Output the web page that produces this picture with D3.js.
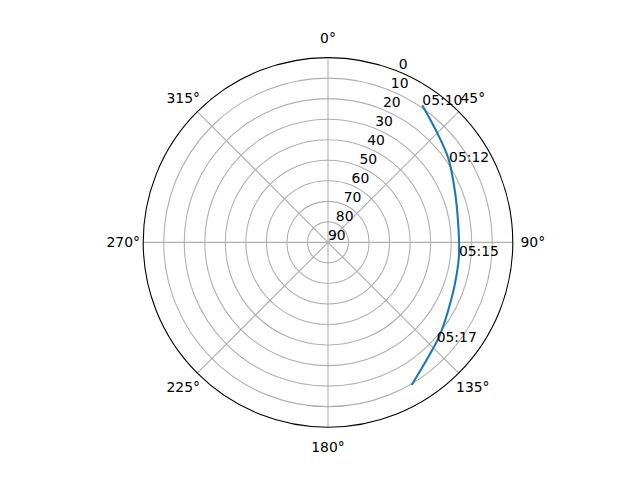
<!DOCTYPE html>
<html>
<head>
<meta charset="utf-8">
<script src="https://cdn.jsdelivr.net/npm/d3@7"></script>
<style>
  body { margin: 0; background: #fff; }
  text { font-family: "DejaVu Sans", sans-serif; font-size: 13.9px; fill: #000; }
</style>
</head>
<body>
<svg id="chart" width="640" height="480"></svg>
<script>
// pass track: azimuth (deg, clockwise from north) and elevation (deg)
const azimuth   = [34.5, 44.5, 55.0, 68.2, 82.4, 95.5, 107.9, 119.3, 130.3, 138.7, 149.6];
const elevation = [ 8.9, 14.5, 18.5, 23.4, 26.0, 25.9,  25.0,  22.8,  19.0,  15.9,   9.5];

// time annotations along the track
const labelTimes = ["05:10", "05:12", "05:15", "05:17"];
const labelAz    = [34.5, 56.5, 96.0, 132.5];
const labelEl    = [ 8.9, 19.3, 25.9,  18.2];

const thetaTicks = [0, 45, 90, 135, 180, 225, 270, 315];
const rTicks = [0, 10, 20, 30, 40, 50, 60, 70, 80, 90];

const svg = d3.select("#chart");
const cx = 328, cy = 242.4, R = 184.8;

const r = d3.scaleLinear().domain([0, 90]).range([R, 0]);
const rad = d => d * Math.PI / 180;

const g = svg.append("g").attr("transform", `translate(${cx},${cy})`);

// rings
g.selectAll("circle.ring")
    .data(rTicks.filter(d => d > 0 && d < 90))
    .enter()
    .append("circle")
    .attr("class", "ring")
    .attr("r", d => r(d))
    .attr("fill", "none")
    .attr("stroke", "#b0b0b0")
    .attr("stroke-width", 1.1);

// spokes
g.selectAll("line.spoke")
    .data(thetaTicks)
    .enter()
    .append("line")
    .attr("x1", 0).attr("y1", 0)
    .attr("x2", d => R * Math.sin(rad(d)))
    .attr("y2", d => -R * Math.cos(rad(d)))
    .attr("stroke", "#b0b0b0")
    .attr("stroke-width", 1.1);

// outer spine
g.append("circle")
    .attr("r", R)
    .attr("fill", "none")
    .attr("stroke", "#000")
    .attr("stroke-width", 1.1);

// theta labels
g.selectAll("text.theta")
    .data(thetaTicks)
    .enter()
    .append("text")
    .attr("x", d => (R + 20) * Math.sin(rad(d)))
    .attr("y", d => -(R + 20) * Math.cos(rad(d)))
    .attr("text-anchor", "middle")
    .attr("dominant-baseline", "central")
    .text(d => d + "°");

// radial labels at 22.5°
g.selectAll("text.rlab")
    .data(rTicks)
    .enter()
    .append("text")
    .attr("x", d => r(d) * Math.sin(rad(22.5)))
    .attr("y", d => -r(d) * Math.cos(rad(22.5)) - 2.5)
    .attr("text-anchor", "start")
    .text(d => d);

// track
const track = azimuth.map((a, i) => [a, elevation[i]]);
const line = d3.lineRadial()
    .angle(d => rad(d[0]))
    .radius(d => r(d[1]))
    .curve(d3.curveCatmullRom);

g.append("path")
    .datum(track)
    .attr("d", line)
    .attr("fill", "none")
    .attr("stroke", "#1f77b4")
    .attr("stroke-width", 2.1);

// annotations (left/baseline at the point)
g.selectAll("text.ann")
    .data(labelTimes)
    .enter()
    .append("text")
    .attr("x", (d, i) => r(labelEl[i]) * Math.sin(rad(labelAz[i])))
    .attr("y", (d, i) => -r(labelEl[i]) * Math.cos(rad(labelAz[i])))
    .attr("text-anchor", "start")
    .text(d => d);
</script>
</body>
</html>
